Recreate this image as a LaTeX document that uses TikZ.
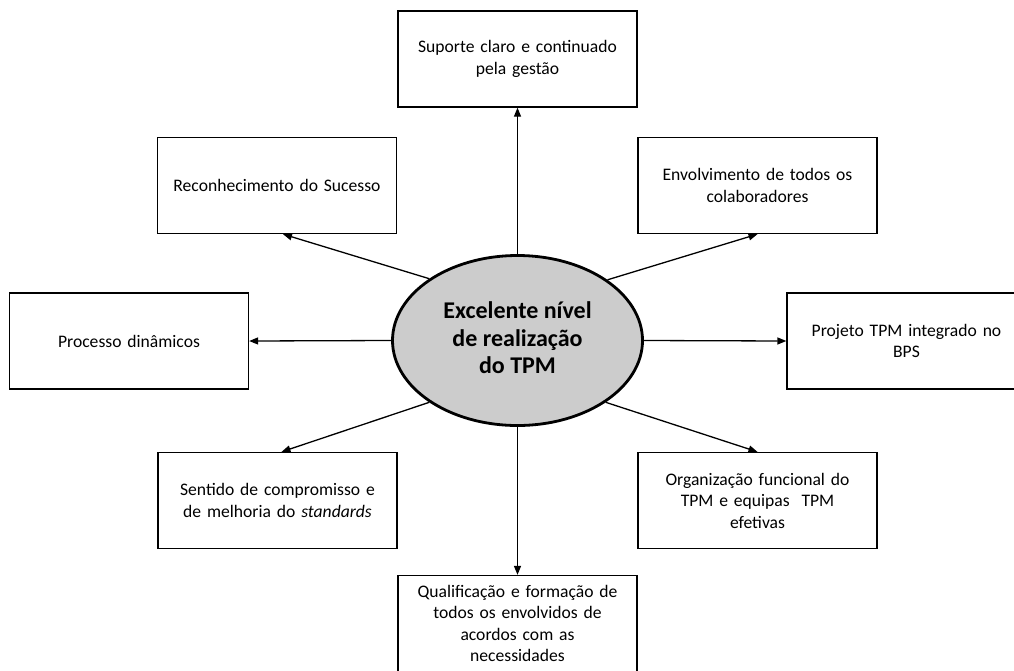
\documentclass[tikz,border=0pt]{standalone}
\usepackage{fontspec}
\setmainfont{Carlito}
\usetikzlibrary{arrows.meta,shapes.geometric,calc}
\begin{document}
\begin{tikzpicture}[x=1pt,y=-1pt,
  itembox/.style={draw, line width=1.3pt, minimum width=239pt, minimum height=96pt,
    text width=234pt, align=center, inner sep=0pt,
    font=\fontsize{17.6}{21.5}\selectfont},
  hub/.style={draw, ellipse, line width=2.8pt, fill=black!20,
    minimum width=250pt, minimum height=170pt, inner sep=0pt, align=center,
    font=\fontsize{24}{27.5}\selectfont\bfseries},
  link/.style={line width=1.3pt, -{Triangle[length=9pt,width=7pt]}}]
\useasboundingbox (0,0) rectangle (1014,670);
\clip (0,0) rectangle (1014,670);

% central goal, its title set a little below the centre
\node[hub] (e) at (517.5,340.5) {\raisebox{-4pt}{\begin{tabular}{@{}c@{}}Excelente nível\\ de realização\\ do TPM\end{tabular}}};

% surrounding factors
\node[itembox] (top) at (517.5,59) {Suporte claro e continuado\\ pela gestão};
\node[itembox] (rec) at (277,185.5) {Reconhecimento do Sucesso};
\node[itembox] (env) at (757.5,185.5) {Envolvimento de todos os\\ colaboradores};
\node[itembox] (pro) at (129,341) {Processo dinâmicos};
\node[itembox] (bps) at (906.5,341) {Projeto TPM integrado no\\ BPS};
\node[itembox] (sen) at (277.5,500.5) {Sentido de compromisso e\\ de melhoria do \textit{standards}};
\node[itembox] (org) at (757.5,500.5) {Organização funcional do\\ TPM e equipas\ \ TPM\\ efetivas};
\node[itembox] (qua) at (517.5,623.5) {Qualificação e formação de\\ todos os envolvidos de\\ acordos com as\\ necessidades};

% arrows from the goal to each factor
\draw[link] (e.north) -- (top.south);
\draw[link] (e.west) -- (pro.east);
\draw[link] (e.east) -- (bps.west);
\draw[link] (e.south) -- (qua.north);
\draw[link] (e.145) -- ($(rec.south)+(6,0)$);
\draw[link] (e.34) -- (env.south);
\draw[link] (e.215) -- ($(sen.north)+(4,0)$);
\draw[link] (e.325) -- (org.north);
\end{tikzpicture}
\end{document}
